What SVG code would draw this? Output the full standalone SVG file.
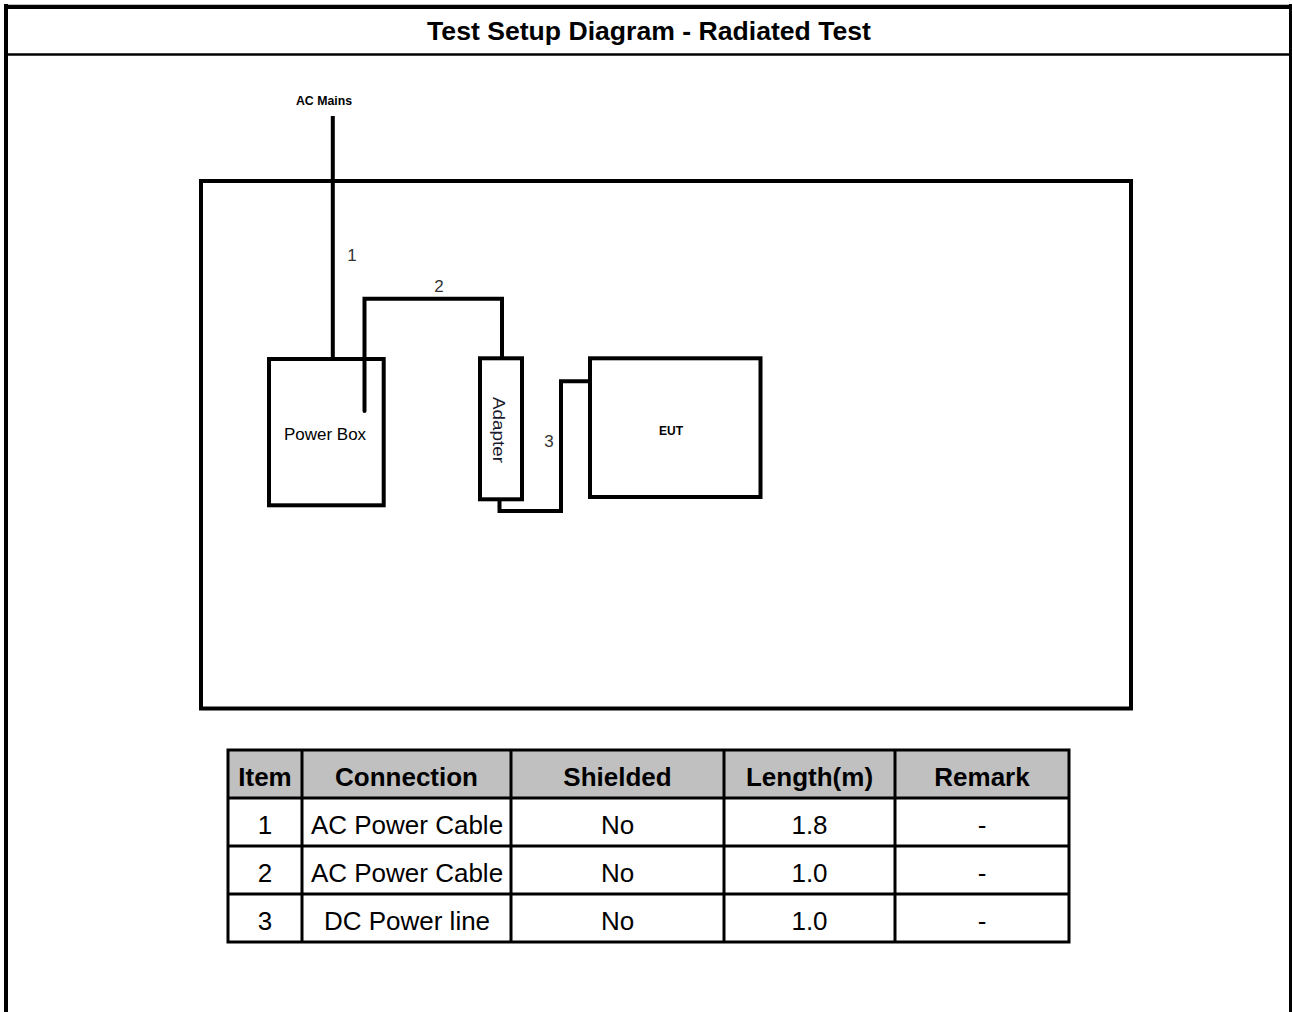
<svg xmlns="http://www.w3.org/2000/svg" width="1292" height="1012" viewBox="0 0 1292 1012">
  <style>
    .frame { fill: none; stroke: #000; }
    .box { fill: none; stroke: #000; stroke-width: 4; }
    .cable { fill: none; stroke: #000; stroke-width: 4; }
    .grid { stroke: #000; stroke-width: 3; fill: none; }
    .hdr { font-family: "Liberation Sans", Arial, sans-serif; font-weight: bold; font-size: 26px; text-anchor: middle; fill: #000; }
    .cell { font-family: "Liberation Sans", Arial, sans-serif; font-size: 26px; text-anchor: middle; fill: #000; }
    .lbl { font-family: "Liberation Sans", Arial, sans-serif; font-size: 17px; fill: #333; text-anchor: middle; }
    .small { font-family: "Liberation Sans", Arial, sans-serif; font-weight: bold; fill: #000; text-anchor: middle; }
  </style>
  <rect x="0" y="0" width="1292" height="1012" fill="#fff"/>

  <g id="page-frame">
    <line x1="6" y1="4" x2="6" y2="1012" class="frame" stroke-width="4"/>
    <line x1="1290.5" y1="4" x2="1290.5" y2="1012" class="frame" stroke-width="3"/>
    <line x1="4" y1="6.8" x2="1292" y2="6.8" class="frame" stroke-width="4.2"/>
    <line x1="6" y1="54.5" x2="1290" y2="54.5" class="frame" stroke-width="2.5"/>
    <text x="649" y="40" class="hdr" font-size="26.6" style="font-size:26.6px">Test Setup Diagram - Radiated Test</text>
  </g>

  <g id="enclosure">
    <rect x="201" y="181" width="930" height="527.5" class="box"/>
  </g>

  <g id="ac-mains">
    <text x="324" y="105" class="small" font-size="12.3">AC Mains</text>
  </g>

  <g id="connectors">
    <line x1="332.8" y1="116" x2="332.8" y2="359" class="cable"/>
    <polyline points="364.5,411 364.5,298.7 502,298.7 502,357" class="cable" stroke-linecap="round"/>
    <polyline points="499.5,499 499.5,511 561,511 561,381.3 590,381.3" class="cable"/>
    <text x="352" y="261" class="lbl">1</text>
    <text x="439" y="292" class="lbl">2</text>
    <text x="549" y="447" class="lbl">3</text>
  </g>

  <g id="power-box">
    <rect x="269" y="359" width="114.7" height="146.3" class="box"/>
    <text x="325" y="440" font-family="Liberation Sans, Arial, sans-serif" font-size="17" text-anchor="middle" fill="#000">Power Box</text>
  </g>

  <g id="adapter">
    <rect x="480" y="358.3" width="42" height="141" class="box"/>
    <text transform="translate(492.5,397) rotate(90)" font-family="Liberation Sans, Arial, sans-serif" font-size="16.5" fill="#1a1a2e" textLength="66" lengthAdjust="spacingAndGlyphs">Adapter</text>
  </g>

  <g id="eut">
    <rect x="590" y="358.3" width="170.5" height="138.7" class="box"/>
    <text x="671" y="435" class="small" font-size="12">EUT</text>
  </g>

  <g id="cable-table">
    <rect x="228" y="750" width="841" height="48" fill="#c0c0c0"/>
    <rect x="228" y="750" width="841" height="192" class="grid"/>
    <line x1="228" y1="798" x2="1069" y2="798" class="grid"/>
    <line x1="228" y1="846" x2="1069" y2="846" class="grid"/>
    <line x1="228" y1="894" x2="1069" y2="894" class="grid"/>
    <line x1="302" y1="750" x2="302" y2="942" class="grid"/>
    <line x1="511" y1="750" x2="511" y2="942" class="grid"/>
    <line x1="724" y1="750" x2="724" y2="942" class="grid"/>
    <line x1="895" y1="750" x2="895" y2="942" class="grid"/>

    <text x="265" y="786" class="hdr">Item</text>
    <text x="406.5" y="786" class="hdr">Connection</text>
    <text x="617.5" y="786" class="hdr">Shielded</text>
    <text x="809.5" y="786" class="hdr">Length(m)</text>
    <text x="982" y="786" class="hdr">Remark</text>

    <text x="265" y="834" class="cell">1</text>
    <text x="407" y="834" class="cell">AC Power Cable</text>
    <text x="617.5" y="834" class="cell">No</text>
    <text x="809.5" y="834" class="cell">1.8</text>
    <text x="982" y="834" class="cell">-</text>

    <text x="265" y="882" class="cell">2</text>
    <text x="407" y="882" class="cell">AC Power Cable</text>
    <text x="617.5" y="882" class="cell">No</text>
    <text x="809.5" y="882" class="cell">1.0</text>
    <text x="982" y="882" class="cell">-</text>

    <text x="265" y="930" class="cell">3</text>
    <text x="407" y="930" class="cell">DC Power line</text>
    <text x="617.5" y="930" class="cell">No</text>
    <text x="809.5" y="930" class="cell">1.0</text>
    <text x="982" y="930" class="cell">-</text>
  </g>
</svg>
